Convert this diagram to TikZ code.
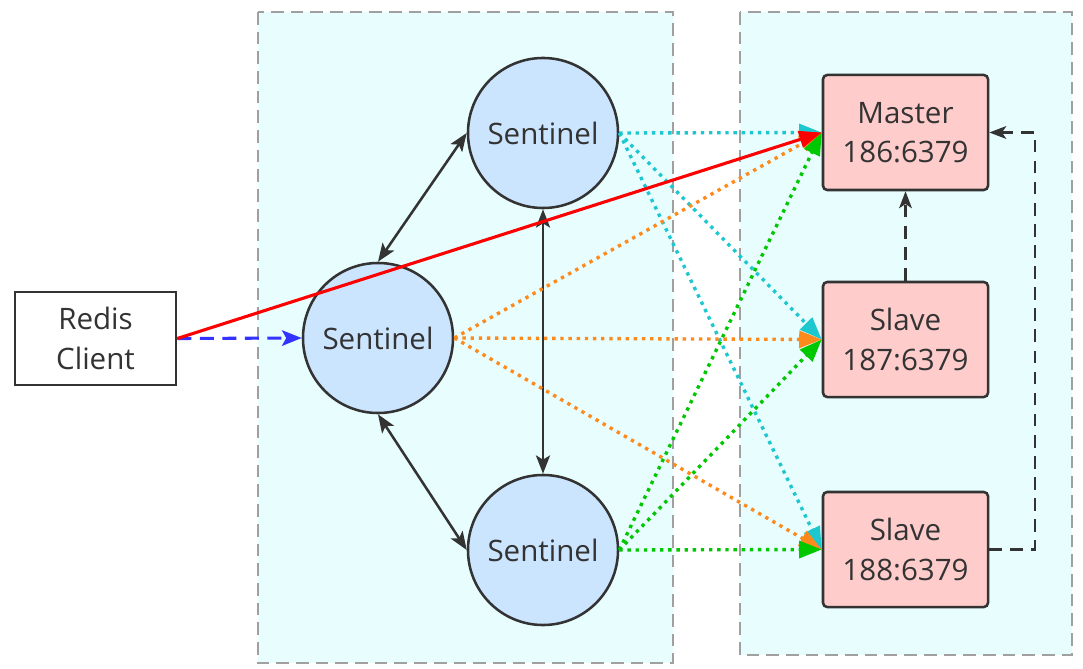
\documentclass[tikz,border=0pt]{standalone}
\usepackage{fontspec}
\setmainfont{Open Sans}
\usetikzlibrary{arrows.meta,calc}
\definecolor{bgcyan}{HTML}{E8FDFD}
\definecolor{senfill}{HTML}{CCE5FF}
\definecolor{redfill}{HTML}{FFCCCC}
\definecolor{txt}{HTML}{333333}
\definecolor{lcyan}{HTML}{1CC7D0}
\definecolor{lorange}{HTML}{FF8A1C}
\definecolor{lgreen}{HTML}{00C800}
\definecolor{lblue}{HTML}{3333FF}
\definecolor{frame}{HTML}{A0A0A0}
\tikzset{
  every node/.style={font=\fontsize{21}{28}\selectfont, text=txt, align=center},
  groupbox/.style={draw=frame, fill=bgcyan, line width=1.6pt, dash pattern=on 9pt off 5pt},
  sentinel/.style={circle, draw=txt, fill=senfill, line width=1.8pt, minimum size=3.75cm, inner sep=0pt},
  redisbox/.style={rectangle, rounded corners=3pt, draw=txt, fill=redfill, line width=1.8pt, minimum width=4.125cm, minimum height=2.875cm, inner sep=0pt},
  clientbox/.style={rectangle, draw=txt, fill=white, line width=1.8pt, minimum width=4.025cm, minimum height=2.325cm, inner sep=0pt},
  dotline/.style={line width=2.4pt, dash pattern=on 2.4pt off 3.4pt, -{Triangle[length=16pt,width=12pt]}},
  peer/.style={txt, line width=1.8pt, {Stealth[length=13pt,width=10pt,inset=3pt]}-{Stealth[length=13pt,width=10pt,inset=3pt]}},
  repl/.style={txt, line width=1.9pt, dash pattern=on 9pt off 6pt, -{Stealth[length=12pt,width=9pt,inset=3pt]}}
}
\begin{document}
\begin{tikzpicture}[x=0.025cm, y=-0.025cm]
\useasboundingbox (0,0) rectangle (1083,669);
\fill[white] (0,0) rectangle (1083,669);
\draw[groupbox] (258,12) rectangle (673,663);
\draw[groupbox] (740,12) rectangle (1072,655);

\node[clientbox] (client) at (95.5,338.5) {Redis\\Client};
\node[sentinel] (s1) at (543,133) {Sentinel};
\node[sentinel] (s2) at (378,338) {Sentinel};
\node[sentinel] (s3) at (543,550) {Sentinel};
\node[redisbox] (m) at (905.5,132.5) {Master\\186:6379};
\node[redisbox] (r1) at (905.5,339.5) {Slave\\187:6379};
\node[redisbox] (r2) at (905.5,549.5) {Slave\\188:6379};

% sentinel peers
\draw[peer] (s1.west) -- (s2.north);
\draw[peer] (s1.south) -- (s3.north);
\draw[peer] (s2.south) -- (s3.west);

% monitoring lines
\draw[dotline, lcyan] (s1.east) -- (m.west);
\draw[dotline, lcyan] (s1.east) -- (r1.west);
\draw[dotline, lcyan] (s1.east) -- (r2.west);
\draw[dotline, lorange] (s2.east) -- (m.west);
\draw[dotline, lorange] (s2.east) -- (r1.west);
\draw[dotline, lorange] (s2.east) -- (r2.west);
\draw[dotline, lgreen] (s3.east) -- (m.west);
\draw[dotline, lgreen] (s3.east) -- (r1.west);
\draw[dotline, lgreen] (s3.east) -- (r2.west);

% client
\draw[lblue, line width=2.2pt, dash pattern=on 10pt off 6pt, -{Stealth[length=14pt,width=11pt,inset=3pt]}] (client.east) -- (s2.west);
\draw[red, line width=2.2pt, -{Triangle[length=16pt,width=12pt]}] (client.east) -- (m.west);

% replication
\draw[repl] (r1.north) -- (m.south);
\coordinate (turn) at (1035,549.5);
\draw[repl] (r2.east) -- (turn) |- (m.east);
\end{tikzpicture}
\end{document}
